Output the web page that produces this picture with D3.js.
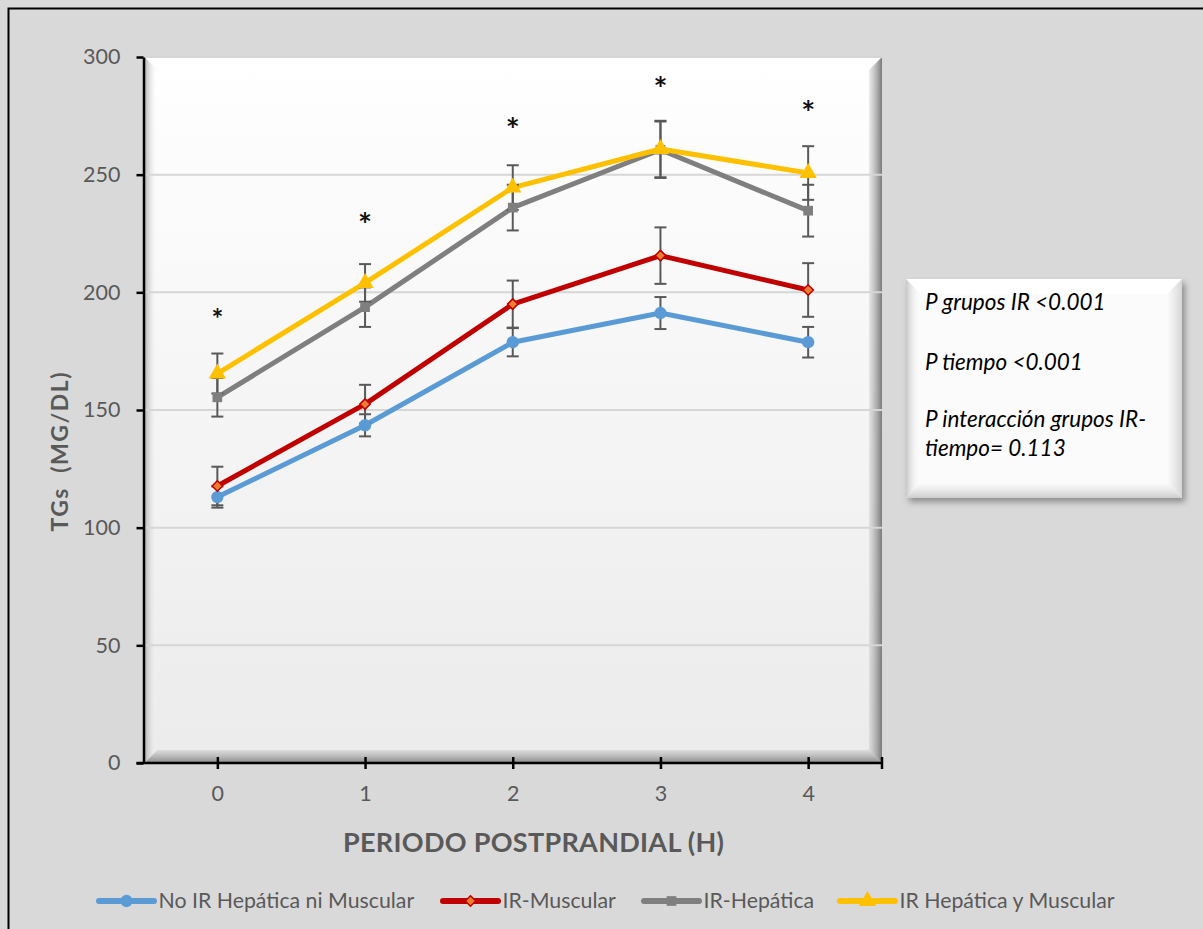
<!DOCTYPE html>
<html>
<head>
<meta charset="utf-8">
<script src="https://cdn.jsdelivr.net/npm/d3@7"></script>
<style>
  body { margin: 0; background: #d9d9d9; }
  svg { display: block; font-family: Lato, "DejaVu Sans", sans-serif; }
</style>
</head>
<body>
<div id="main"></div>
<script>
// data
const hours = ['0', '1', '2', '3', '4'];
const seriesNames = ['No IR Hepática ni Muscular', 'IR-Muscular', 'IR-Hepática', 'IR Hepática y Muscular'];
const noIR      = [113, 143.5, 178.8, 191.2, 178.8];
const noIRErr   = [4.5, 4.7, 6, 6.8, 6.5];
const irMusc    = [117.7, 152.5, 195, 215.6, 201];
const irMuscErr = [8.2, 8.2, 10, 12, 11.4];
const irHep     = [155.4, 193.7, 236, 260.6, 234.7];
const irHepErr  = [8.2, 8.4, 9.7, 12, 11];
const irBoth    = [165.5, 204, 244.5, 260.9, 250.7];
const irBothErr = [8.5, 8, 9.5, 12, 11.4];
const starValues = [192, 232, 272.5, 290, 279.6];
const yTicks = [0, 50, 100, 150, 200, 250, 300];
const pNotes = ['P grupos IR <0.001', 'P tiempo <0.001', 'P interacción grupos IR-', 'tiempo= 0.113'];

const W = 1203, H = 929;
const plot = {left: 143.5, right: 882, top: 57, bottom: 763};

const series = [
  {name: seriesNames[0], values: noIR,   err: noIRErr,   color: '#5b9bd5', symbol: d3.symbolCircle,   size: 120, fill: '#5b9bd5', stroke: 'none'},
  {name: seriesNames[1], values: irMusc, err: irMuscErr, color: '#c00000', symbol: d3.symbolDiamond2, size: 70,  fill: '#ed7d31', stroke: '#c00000'},
  {name: seriesNames[2], values: irHep,  err: irHepErr,  color: '#7f7f7f', symbol: d3.symbolSquare2,  size: 120, fill: '#7f7f7f', stroke: 'none'},
  {name: seriesNames[3], values: irBoth, err: irBothErr, color: '#ffc000', symbol: d3.symbolTriangle, size: 130, fill: '#ffc000', stroke: 'none'}
];

const svg = d3.select('#main')
              .append('svg')
              .attr('width', W)
              .attr('height', H);

const defs = svg.append('defs');

const bg = defs.append('linearGradient').attr('id', 'plotBg').attr('x1', 0).attr('y1', 0).attr('x2', 0).attr('y2', 1);
bg.append('stop').attr('offset', '0%').attr('stop-color', '#ffffff');
bg.append('stop').attr('offset', '100%').attr('stop-color', '#ebebeb');

function edgeGrad(id, x2, y2, c1, c2) {
  const g = defs.append('linearGradient').attr('id', id).attr('x1', 0).attr('y1', 0).attr('x2', x2).attr('y2', y2);
  g.append('stop').attr('offset', '0%').attr('stop-color', c1);
  g.append('stop').attr('offset', '100%').attr('stop-color', c2);
}
edgeGrad('edgeLeft', 1, 0, '#b0b0b0', 'rgba(255,255,255,0)');
edgeGrad('edgeBottom', 0, 1, 'rgba(160,160,160,0.2)', '#8a8a8a');
edgeGrad('edgeRight', 1, 0, 'rgba(160,160,160,0.2)', '#7a7a7a');
edgeGrad('edgeTop', 0, 1, '#ffffff', 'rgba(255,255,255,0)');
edgeGrad('boxLeft', 1, 0, '#c8c8c8', 'rgba(255,255,255,0)');
edgeGrad('boxBottom', 0, 1, 'rgba(220,220,220,0)', '#cdcdcd');
edgeGrad('boxRight', 1, 0, 'rgba(220,220,220,0)', '#d6d6d6');

const shadow = defs.append('filter').attr('id', 'shadow').attr('x', '-10%').attr('y', '-10%').attr('width', '130%').attr('height', '130%');
shadow.append('feDropShadow').attr('dx', 3).attr('dy', 4).attr('stdDeviation', 3).attr('flood-color', '#000').attr('flood-opacity', 0.35);

// outer chart border
svg.append('rect')
   .attr('x', 8.5).attr('y', 8.5)
   .attr('width', W + 20).attr('height', H + 20)
   .attr('fill', '#d9d9d9')
   .attr('stroke', '#000')
   .attr('stroke-width', 2);

// bevelled plot area
function bevel(g, x0, y0, x1, y1, b, fills) {
  g.append('polygon').attr('points', [[x0, y0], [x1, y0], [x1 - b, y0 + b], [x0 + b, y0 + b]].join(' ')).attr('fill', fills.top);
  g.append('polygon').attr('points', [[x0, y0], [x0 + b, y0 + b], [x0 + b, y1 - b], [x0, y1]].join(' ')).attr('fill', fills.left);
  g.append('polygon').attr('points', [[x0, y1], [x0 + b, y1 - b], [x1 - b, y1 - b], [x1, y1]].join(' ')).attr('fill', fills.bottom);
  g.append('polygon').attr('points', [[x1, y0], [x1, y1], [x1 - b, y1 - b], [x1 - b, y0 + b]].join(' ')).attr('fill', fills.right);
}

const plotG = svg.append('g');
plotG.append('rect')
     .attr('x', plot.left + 1).attr('y', plot.top)
     .attr('width', plot.right - plot.left - 1).attr('height', plot.bottom - plot.top)
     .attr('fill', 'url(#plotBg)');
bevel(plotG, plot.left + 1, plot.top, plot.right, plot.bottom, 13,
      {top: 'url(#edgeTop)', left: 'url(#edgeLeft)', bottom: 'url(#edgeBottom)', right: 'url(#edgeRight)'});

const x = d3.scalePoint()
            .domain(hours)
            .range([plot.left, plot.right])
            .padding(0.5);

const y = d3.scaleLinear()
            .domain([0, 300])
            .range([plot.bottom, plot.top]);

// gridlines
svg.append('g')
   .selectAll('line')
   .data(yTicks.filter(d => d > 0))
   .enter()
   .append('line')
   .attr('x1', plot.left + 2)
   .attr('x2', plot.right)
   .attr('y1', d => y(d))
   .attr('y2', d => y(d))
   .attr('stroke', '#d6d6d6')
   .attr('stroke-width', 2);

// y axis
const yAxis = svg.append('g')
                 .attr('transform', `translate(${plot.left},0)`)
                 .call(d3.axisLeft(y).tickValues(yTicks).tickSize(7).tickPadding(16).tickSizeOuter(0));
yAxis.select('.domain').attr('stroke', '#000').attr('stroke-width', 2.5);
yAxis.selectAll('.tick line').attr('stroke', '#000').attr('stroke-width', 2.5);
yAxis.selectAll('text').attr('font-size', '21.5px').attr('fill', '#595959').attr('font-family', 'Lato');

// x axis
const xAxis = svg.append('g')
                 .attr('transform', `translate(0,${plot.bottom})`)
                 .call(d3.axisBottom(x).tickSize(6).tickPadding(17).tickSizeOuter(0));
xAxis.select('.domain').remove();
xAxis.append('line')
     .attr('x1', plot.left - 7).attr('x2', plot.right)
     .attr('stroke', '#000').attr('stroke-width', 2.5);
xAxis.selectAll('.tick line').attr('y1', -6).attr('y2', 6).attr('stroke', '#000').attr('stroke-width', 2.5);
xAxis.append('line')
     .attr('x1', plot.right).attr('x2', plot.right)
     .attr('y1', -6).attr('y2', 6)
     .attr('stroke', '#000').attr('stroke-width', 2.5);
xAxis.selectAll('text').attr('font-size', '21.5px').attr('fill', '#595959').attr('font-family', 'Lato');

// axis titles
svg.append('text')
   .attr('x', 533.5).attr('y', 852)
   .attr('text-anchor', 'middle')
   .attr('font-size', '27px')
   .attr('font-weight', 'bold')
   .attr('fill', '#595959')
   .attr('textLength', 381)
   .text('PERIODO POSTPRANDIAL (H)');

svg.append('text')
   .attr('transform', 'translate(68,452) rotate(-90)')
   .attr('text-anchor', 'middle')
   .attr('font-size', '23px')
   .attr('font-weight', 'bold')
   .attr('fill', '#595959')
   .attr('textLength', 159)
   .style('white-space', 'pre')
   .text('TGs  (MG/DL)');

// series
const line = d3.line()
               .x((d, i) => x(hours[i]))
               .y(d => y(d));

series.forEach(s => {
  const g = svg.append('g');
  g.append('path')
   .datum(s.values)
   .attr('d', line)
   .attr('fill', 'none')
   .attr('stroke', s.color)
   .attr('stroke-width', 5)
   .attr('stroke-linejoin', 'round');
});

series.forEach(s => {
  const g = svg.append('g');
  const bars = g.selectAll('g')
                .data(s.values.map((v, i) => ({v: v, e: s.err[i], h: hours[i]})))
                .enter()
                .append('g')
                .attr('stroke', '#595959')
                .attr('stroke-width', 2);
  bars.append('line')
      .attr('x1', d => x(d.h)).attr('x2', d => x(d.h))
      .attr('y1', d => y(d.v - d.e)).attr('y2', d => y(d.v + d.e));
  bars.append('line')
      .attr('x1', d => x(d.h) - 6).attr('x2', d => x(d.h) + 6)
      .attr('y1', d => y(d.v + d.e)).attr('y2', d => y(d.v + d.e));
  bars.append('line')
      .attr('x1', d => x(d.h) - 6).attr('x2', d => x(d.h) + 6)
      .attr('y1', d => y(d.v - d.e)).attr('y2', d => y(d.v - d.e));
});

series.forEach(s => {
  svg.append('g')
     .selectAll('path')
     .data(s.values)
     .enter()
     .append('path')
     .attr('d', d3.symbol().type(s.symbol).size(s.size))
     .attr('transform', (d, i) => `translate(${x(hours[i])},${y(d)})`)
     .attr('fill', s.fill)
     .attr('stroke', s.stroke)
     .attr('stroke-width', 1.5);
});

// significance stars
svg.append('g')
   .selectAll('text')
   .data(starValues)
   .enter()
   .append('text')
   .attr('x', (d, i) => x(hours[i]))
   .attr('y', d => y(d))
   .attr('dy', '0.62em')
   .attr('text-anchor', 'middle')
   .attr('font-size', (d, i) => i === 0 ? '28px' : '33px')
   .attr('font-weight', 'bold')
   .attr('fill', '#111')
   .text('*');

// p-value note box
const box = {x0: 906, y0: 279, x1: 1182, y1: 498};
const boxG = svg.append('g');
boxG.append('rect')
    .attr('x', box.x0).attr('y', box.y0)
    .attr('width', box.x1 - box.x0).attr('height', box.y1 - box.y0)
    .attr('fill', '#fbfbfb')
    .attr('filter', 'url(#shadow)');
bevel(boxG, box.x0, box.y0, box.x1, box.y1, 15,
      {top: '#ffffff', left: 'url(#boxLeft)', bottom: 'url(#boxBottom)', right: 'url(#boxRight)'});

boxG.selectAll('text')
    .data(pNotes)
    .enter()
    .append('text')
    .attr('x', 925)
    .attr('y', (d, i) => [310, 370, 427, 456][i])
    .attr('font-size', '22.5px')
    .attr('font-style', 'italic')
    .attr('fill', '#000')
    .text(d => d);

// legend
const legendX = [99, 443, 644, 840];
const legend = svg.append('g')
                  .selectAll('g')
                  .data(series)
                  .enter()
                  .append('g')
                  .attr('transform', (d, i) => `translate(${legendX[i]},901)`);
legend.append('line')
      .attr('x1', 0).attr('x2', 55)
      .attr('stroke', d => d.color)
      .attr('stroke-width', 6)
      .attr('stroke-linecap', 'round');
legend.append('path')
      .attr('d', d => d3.symbol().type(d.symbol).size(d.size)())
      .attr('transform', 'translate(27.5,0)')
      .attr('fill', d => d.fill)
      .attr('stroke', d => d.stroke)
      .attr('stroke-width', 1.5);
legend.append('text')
      .attr('x', 59.5)
      .attr('dy', '0.35em')
      .attr('font-size', '21.3px')
      .attr('fill', '#595959')
      .text(d => d.name);
</script>
</body>
</html>
